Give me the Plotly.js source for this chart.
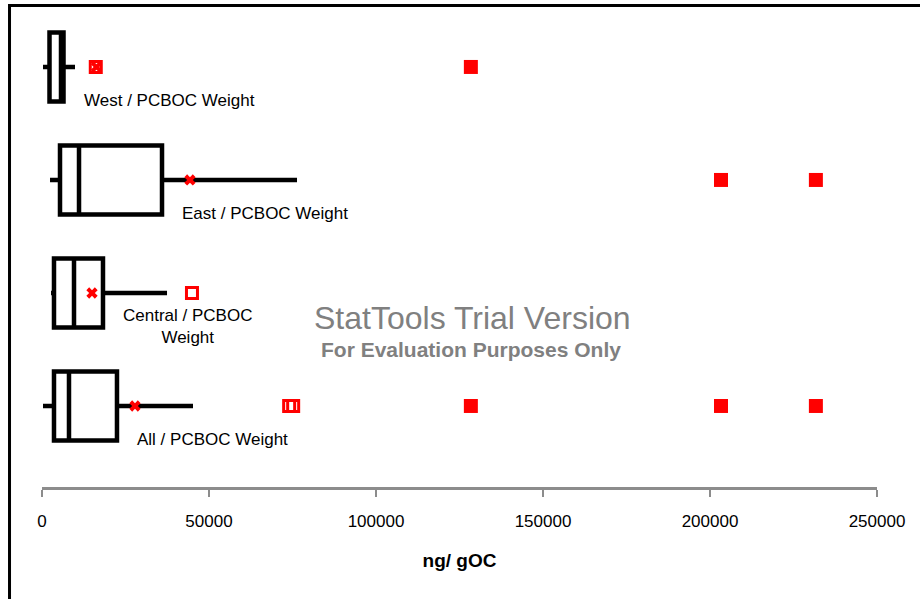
<!DOCTYPE html>
<html>
<head>
<meta charset="utf-8">
<script src="https://cdn.plot.ly/plotly-3.0.1.min.js"></script>
<style>html,body{margin:0;padding:0;background:#fff;} #chart{width:920px;height:599px;}</style>
</head>
<body>
<div id="chart"></div>
<script>
// ---- data (ng/gOC) ----
const categories = ['All', 'Central', 'East', 'West'];
const labels = ['All / PCBOC Weight', 'Central / PCBOC<br>Weight', 'East / PCBOC Weight', 'West / PCBOC Weight'];
const minVals = [300, 2700, 2400, 300];
const q1Vals = [3590, 3590, 5390, 2245];
const medianVals = [8080, 9580, 11080, 5690];
const q3Vals = [22450, 18260, 35930, 6440];
const maxVals = [45210, 37430, 76350, 9880];
const meanVals = [27840, 14970, 44300, 16300];
const mildGroup = ['All', 'All', 'Central', 'West'];
const mildVals = [74000, 75200, 44900, 16100];
const extremeGroup = ['All', 'All', 'All', 'East', 'East', 'West'];
const extremeVals = [128400, 203300, 231700, 203300, 231700, 128400];
const xTicks = [0, 50000, 100000, 150000, 200000, 250000];

const FONT = 'Liberation Sans, Arial, sans-serif';

const traces = [
  {
    type: 'box', orientation: 'h',
    y: categories, q1: q1Vals, median: medianVals, q3: q3Vals,
    lowerfence: minVals, upperfence: maxVals,
    fillcolor: '#ffffff', line: {color: '#000000', width: 4.5},
    whiskerwidth: 0, width: 0.61, boxpoints: false, hoverinfo: 'skip', showlegend: false
  },
  {
    type: 'scatter', mode: 'markers', x: mildVals, y: mildGroup,
    marker: {symbol: 'square-open', size: 11, color: '#ff0000', line: {width: 3, color: '#ff0000'}},
    hoverinfo: 'skip', showlegend: false
  },
  {
    type: 'scatter', mode: 'markers', x: extremeVals, y: extremeGroup,
    marker: {symbol: 'square', size: 14, color: '#ff0000', line: {width: 0}},
    hoverinfo: 'skip', showlegend: false
  },
  {
    type: 'scatter', mode: 'markers', x: meanVals, y: categories,
    marker: {symbol: 'x', size: 10, color: '#ff0000', line: {width: 0}},
    hoverinfo: 'skip', showlegend: false
  }
];

const annotations = categories.map((c, i) => ({
  x: q3Vals[i], y: c, xref: 'x', yref: 'y', text: labels[i],
  showarrow: false, xanchor: 'left', yanchor: 'middle', align: 'center',
  xshift: 18, yshift: -34,
  font: {family: FONT, size: 17, color: '#000000'}
}));
annotations.push({
  x: 0.515, y: 0.354, xref: 'paper', yref: 'paper', text: 'StatTools Trial Version',
  showarrow: false, xanchor: 'center', yanchor: 'middle',
  font: {family: FONT, size: 32, color: '#808080'}
});
annotations.push({
  x: 0.514, y: 0.289, xref: 'paper', yref: 'paper', text: 'For Evaluation Purposes Only',
  showarrow: false, xanchor: 'center', yanchor: 'middle',
  font: {family: FONT, size: 21, color: '#808080', weight: 'bold'}
});

const layout = {
  width: 920, height: 599,
  margin: {l: 42, r: 43, t: 10, b: 112},
  paper_bgcolor: '#ffffff', plot_bgcolor: '#ffffff',
  font: {family: FONT, color: '#000000'},
  showlegend: false,
  boxmode: 'overlay',
  xaxis: {
    range: [0, 250000], tickvals: xTicks, ticktext: xTicks.map(String),
    showgrid: false, zeroline: false, showline: true,
    linecolor: '#8c8c8c', linewidth: 3,
    ticks: 'outside', ticklen: 7, tickwidth: 2.5, tickcolor: '#8c8c8c',
    ticklabelstandoff: 10,
    tickfont: {family: FONT, size: 17, color: '#000000'},
    title: {text: 'ng/ gOC', standoff: 24, font: {family: FONT, size: 19, color: '#000000', weight: 'bold'}},
    fixedrange: true
  },
  yaxis: {
    type: 'category', categoryorder: 'array', categoryarray: categories,
    range: [-0.717, 3.504], visible: false, showgrid: false, zeroline: false, fixedrange: true
  },
  annotations: annotations,
  shapes: [{
    type: 'rect', xref: 'paper', yref: 'paper',
    x0: -0.0389, x1: 1.3, y0: -0.5, y1: 1.0094,
    line: {color: '#000000', width: 3}, fillcolor: 'rgba(0,0,0,0)', layer: 'above'
  }]
};

Plotly.newPlot('chart', traces, layout, {staticPlot: true, displayModeBar: false});
</script>
</body>
</html>
